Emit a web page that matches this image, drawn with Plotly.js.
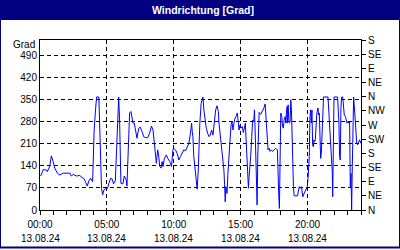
<!DOCTYPE html>
<html>
<head>
<meta charset="utf-8">
<script src="https://cdn.plot.ly/plotly-3.0.1.min.js"></script>
<style>html,body{margin:0;padding:0;background:#fff;}#chart{width:400px;height:250px;}</style>
</head>
<body>
<div id="chart"></div>
<script>
// minutes after 00:00 on 13.08.24
const minutes = [3,14,29,33,44,51,59,66,78,89,104,134,141,149,164,179,186,197,204,212,219,227,236,239,243,249,254,264,266,270,273,276,281,287,296,303,309,317,324,330,338,342,348,353,357,360,363,372,378,383,387,390,393,398,402,408,413,417,423,428,435,443,450,458,465,473,483,492,500,507,513,518,522,528,533,537,543,548,552,558,567,573,582,590,596,600,608,615,623,630,638,645,653,660,668,675,680,683,686,690,695,701,705,710,713,717,723,731,735,740,746,752,758,764,770,776,782,788,794,800,803,809,815,821,825,828,831,834,839,843,848,852,857,861,866,870,875,881,885,890,893,897,903,908,912,917,921,924,927,932,935,938,941,945,950,954,959,962,965,968,971,974,977,980,983,990,998,1005,1010,1013,1017,1020,1023,1028,1032,1038,1043,1050,1058,1065,1068,1071,1074,1077,1080,1085,1088,1092,1095,1100,1103,1106,1109,1110,1113,1116,1119,1122,1125,1128,1131,1134,1137,1140,1155,1163,1167,1173,1179,1185,1193,1199,1203,1208,1211,1214,1217,1220,1223,1226,1229,1232,1235,1238,1242,1247,1250,1253,1256,1259,1262,1265,1268,1272,1292,1295,1298,1301,1305,1308,1311,1313,1316,1319,1335,1338,1341,1344,1347,1350,1353,1358,1361,1365,1370,1373,1377,1382,1386,1389,1392,1395,1398,1401,1404,1407,1412,1415,1418,1421,1425,1430,1434,1439];
const direction = [108,128,127,122,140,172,154,133,117,111,117,117,108,113,108,110,104,100,90,76,92,101,90,191,254,318,359,359,297,233,159,69,48,64,69,69,85,101,98,83,93,159,286,359,286,180,85,83,108,101,95,76,138,244,308,313,297,276,276,249,228,260,263,249,233,230,230,244,267,254,212,186,148,191,170,138,133,154,138,164,175,164,154,138,191,196,191,180,159,170,180,191,188,201,212,244,276,249,233,170,127,90,66,127,201,276,339,359,318,281,260,244,233,238,254,238,281,318,331,313,276,233,212,170,127,80,26,74,53,117,170,233,270,281,254,276,292,299,308,276,254,270,260,265,246,260,276,233,170,106,69,106,127,170,233,286,281,318,254,170,85,16,170,254,310,304,313,325,337,302,244,207,191,196,186,191,186,191,196,191,74,48,5,106,308,297,265,260,286,297,276,318,329,276,334,286,276,281,350,318,212,127,74,45,45,74,69,74,42,53,69,74,106,170,297,318,276,318,207,201,223,217,223,276,308,324,302,308,212,164,180,244,318,359,359,318,297,281,223,170,122,42,265,359,359,318,276,170,159,324,359,359,318,302,297,286,276,281,276,281,74,117,0,138,297,359,308,276,244,212,207,217,223,212];

const xTickVals = [0,300,600,900,1200];
const timeLabels = ['00:00','05:00','10:00','15:00','20:00'];
const dateLabels = ['13.08.24','13.08.24','13.08.24','13.08.24','13.08.24'];
const gradTicks = [0,70,140,210,280,350,420,490];
const compassVals = [0,45,90,135,180,225,270,315,360,405,450,495,540];
const compassLabels = ['N','NE','E','SE','S','SW','W','NW','N','NE','E','SE','S'];

const W = 321, H = 170, L = 40, T = 40;
const px = p => (p - L) / W;
const py = p => (T + H - p) / H;
const navy = '#000080';
const fontFam = 'Liberation Sans, Arial, sans-serif';

const trace = {
  x: minutes, y: direction, type: 'scatter', mode: 'lines',
  line: {color: '#0000FF', width: 1}, hoverinfo: 'skip', showlegend: false
};
const trace2 = {x: [0], y: [0], yaxis: 'y2', mode: 'none', showlegend: false, hoverinfo: 'skip'};

const annotations = dateLabels.map((d, i) => ({
  text: d, x: xTickVals[i], xref: 'x', y: py(238.5), yref: 'paper',
  xanchor: 'center', yanchor: 'middle', showarrow: false,
  font: {family: fontFam, size: 10, color: '#000'}
}));
annotations.push({
  text: 'Grad', x: px(37), xref: 'paper', y: py(44.5), yref: 'paper',
  xanchor: 'right', yanchor: 'middle', showarrow: false,
  font: {family: fontFam, size: 10, color: '#000'}
});

const layout = {
  width: 400, height: 250,
  margin: {l: L, r: 400 - L - W, t: T, b: 250 - T - H, pad: 0},
  paper_bgcolor: '#fff', plot_bgcolor: '#fff',
  title: {text: 'Windrichtung [Grad]', x: 203 / 400, xref: 'container', xanchor: 'center',
    y: 1 - 10 / 250, yref: 'container', yanchor: 'middle',
    font: {family: fontFam, size: 10.5, color: '#fff', weight: 'bold'}},
  xaxis: {
    range: [0, 1440], tickmode: 'array', tickvals: xTickVals, ticktext: timeLabels,
    ticks: 'outside', ticklen: 4, tickcolor: '#000', tickwidth: 1, ticklabelstandoff: 1,
    minor: {tickmode: 'linear', tick0: 0, dtick: 60, ticks: 'outside', ticklen: 4, tickcolor: '#000', showgrid: false},
    showline: true, linecolor: '#000', linewidth: 1, mirror: true,
    showgrid: true, gridcolor: '#000', griddash: '4px,3px', gridwidth: 1,
    zeroline: false, tickfont: {family: fontFam, size: 10, color: '#000'}, fixedrange: true
  },
  yaxis: {
    range: [0, 540], tickmode: 'array', tickvals: gradTicks,
    ticks: '', showline: true, linecolor: '#000', linewidth: 1,
    showgrid: true, gridcolor: '#000', griddash: '4px,3px', gridwidth: 1,
    zeroline: false, tickfont: {family: fontFam, size: 10, color: '#000'}, fixedrange: true
  },
  yaxis2: {
    range: [0, 540], overlaying: 'y', side: 'right', tickmode: 'array',
    tickvals: compassVals, ticktext: compassLabels,
    ticks: 'outside', ticklen: 4, tickcolor: '#000',
    showline: true, linecolor: '#000', linewidth: 1, showgrid: false, zeroline: false,
    tickfont: {family: fontFam, size: 10, color: '#000'}, fixedrange: true
  },
  shapes: [
    {type: 'rect', xref: 'paper', yref: 'paper', x0: px(0), x1: px(400), y0: py(20), y1: py(0),
      fillcolor: navy, line: {width: 0}, layer: 'below'},
    {type: 'rect', xref: 'paper', yref: 'paper', x0: px(0.5), x1: px(399.5), y0: py(247.5), y1: py(0.5),
      fillcolor: 'rgba(0,0,0,0)', line: {color: navy, width: 1}},
    {type: 'line', xref: 'paper', yref: 'paper', x0: px(0), x1: px(400), y0: py(247.5), y1: py(247.5),
      line: {color: navy, width: 2}}
  ],
  annotations: annotations
};

Plotly.newPlot('chart', [trace, trace2], layout, {staticPlot: true, displayModeBar: false});
</script>
</body>
</html>
